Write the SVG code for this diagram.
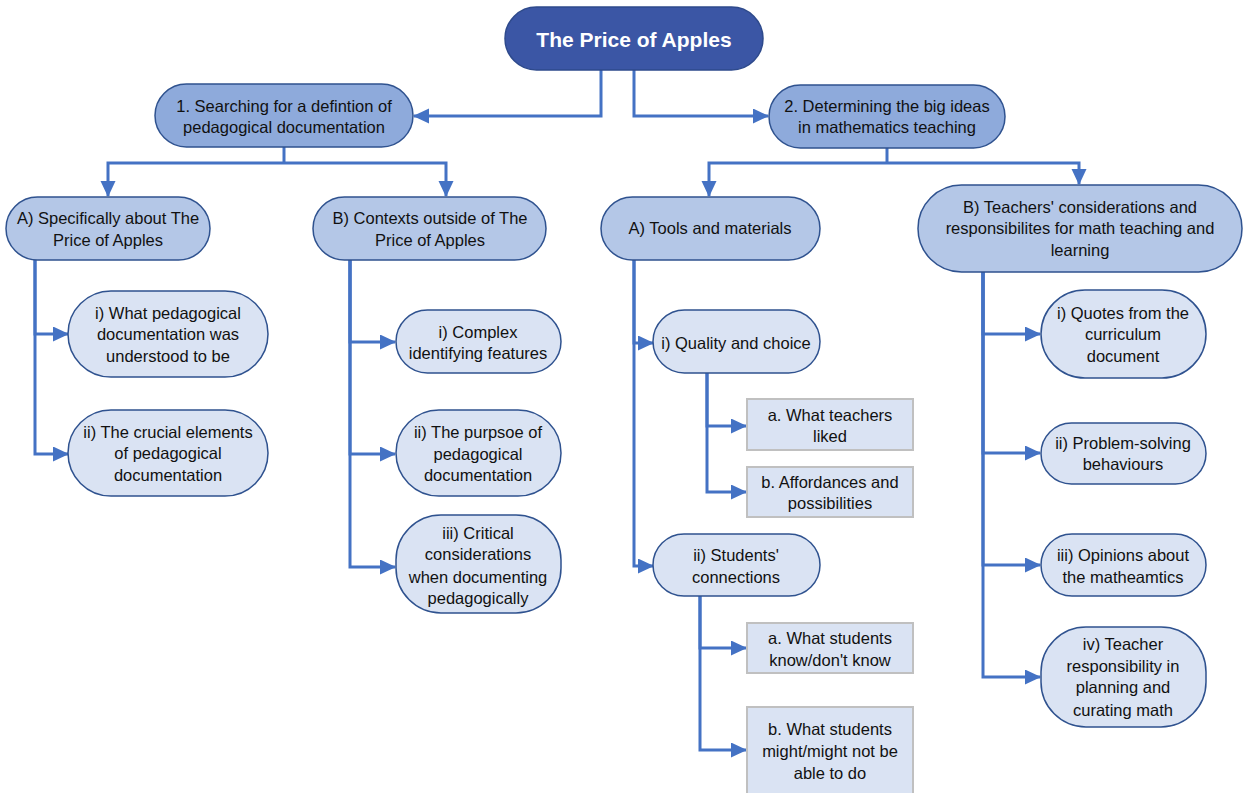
<svg xmlns="http://www.w3.org/2000/svg" width="1243" height="793" viewBox="0 0 1243 793">
<defs>
<style>
.t{font-family:"Liberation Sans",Arial,sans-serif;font-size:16.5px;fill:#111;text-anchor:middle}
.title{font-family:"Liberation Sans",Arial,sans-serif;font-size:21px;font-weight:bold;fill:#fff;text-anchor:middle}
.root{fill:#3b56a5;stroke:#2e4a8c;stroke-width:1.5}
.l2{fill:#8eaadb;stroke:#2f528f;stroke-width:1.5}
.l3{fill:#b4c7e7;stroke:#2f528f;stroke-width:1.5}
.l4{fill:#dae3f3;stroke:#2f528f;stroke-width:1.5}
.bx{fill:#dae3f3;stroke:#c0c0c0;stroke-width:2}
.c{fill:none;stroke:#4472c4;stroke-width:3;marker-end:url(#ah)}
.cn{fill:none;stroke:#4472c4;stroke-width:3}
</style>
<marker id="ah" markerUnits="userSpaceOnUse" markerWidth="16" markerHeight="16" refX="15" refY="7.5" orient="auto">
<path d="M0,0 L16,7.5 L0,15 Z" fill="#4472c4"/>
</marker>
</defs>

<g id="connectors">
<path class="c" d="M601,70 V116 H414"/>
<path class="c" d="M634,70 V116 H768"/>
<path class="cn" d="M284,147 V163"/>
<path class="c" d="M284,163 H108 V196"/>
<path class="c" d="M284,163 H446 V196"/>
<path class="cn" d="M887,148 V163"/>
<path class="c" d="M887,163 H709 V196"/>
<path class="c" d="M887,163 H1079 V184"/>
<path class="c" d="M35,260 V334 H68"/>
<path class="c" d="M35,260 V454 H68"/>
<path class="c" d="M350,260 V342 H395"/>
<path class="c" d="M350,260 V454 H395"/>
<path class="c" d="M350,260 V567 H395"/>
<path class="c" d="M634,260 V343 H653"/>
<path class="c" d="M634,260 V566 H653"/>
<path class="c" d="M707,373 V426 H746"/>
<path class="c" d="M707,373 V492 H746"/>
<path class="c" d="M700,596 V648 H746"/>
<path class="c" d="M700,596 V750 H746"/>
<path class="c" d="M983,272 V334 H1040"/>
<path class="c" d="M983,272 V453 H1040"/>
<path class="c" d="M983,272 V565 H1040"/>
<path class="c" d="M983,272 V677 H1040"/>
</g>

<g id="root">
<rect class="root" x="505" y="7" width="258" height="63" rx="31.5"/>
<text class="title" x="634" y="47">The Price of Apples</text>
</g>

<g id="n1">
<rect class="l2" x="155" y="84" width="258" height="63" rx="31.5"/>
<text class="t" x="284" y="112">1. Searching for a defintion of</text>
<text class="t" x="284" y="133">pedagogical documentation</text>
</g>

<g id="n2">
<rect class="l2" x="769" y="85" width="236" height="63" rx="31.5"/>
<text class="t" x="887" y="112">2. Determining the big ideas</text>
<text class="t" x="887" y="133">in mathematics teaching</text>
</g>

<g id="n1A">
<rect class="l3" x="6" y="197" width="204" height="63" rx="31.5"/>
<text class="t" x="108" y="224">A) Specifically about The</text>
<text class="t" x="108" y="246">Price of Apples</text>
</g>

<g id="n1B">
<rect class="l3" x="313" y="197" width="233" height="63" rx="31.5"/>
<text class="t" x="430" y="224">B) Contexts outside of The</text>
<text class="t" x="430" y="246">Price of Apples</text>
</g>

<g id="n2A">
<rect class="l3" x="601" y="197" width="219" height="63" rx="31.5"/>
<text class="t" x="710" y="234">A) Tools and materials</text>
</g>

<g id="n2B">
<rect class="l3" x="918" y="185" width="324" height="87" rx="43.5"/>
<text class="t" x="1080" y="213">B) Teachers' considerations and</text>
<text class="t" x="1080" y="234">responsibilites for math teaching and</text>
<text class="t" x="1080" y="256">learning</text>
</g>

<g id="n1Ai">
<rect class="l4" x="68" y="291" width="200" height="86" rx="43"/>
<text class="t" x="168" y="319">i) What pedagogical</text>
<text class="t" x="168" y="340">documentation was</text>
<text class="t" x="168" y="362">understood to be</text>
</g>

<g id="n1Aii">
<rect class="l4" x="68" y="410" width="200" height="86" rx="43"/>
<text class="t" x="168" y="438">ii) The crucial elements</text>
<text class="t" x="168" y="459">of pedagogical</text>
<text class="t" x="168" y="481">documentation</text>
</g>

<g id="n1Bi">
<rect class="l4" x="396" y="310" width="165" height="63" rx="31.5"/>
<text class="t" x="478" y="338">i) Complex</text>
<text class="t" x="478" y="359">identifying features</text>
</g>

<g id="n1Bii">
<rect class="l4" x="396" y="410" width="165" height="86" rx="43"/>
<text class="t" x="478" y="438">ii) The purpsoe of</text>
<text class="t" x="478" y="460">pedagogical</text>
<text class="t" x="478" y="481">documentation</text>
</g>

<g id="n1Biii">
<rect class="l4" x="396" y="515" width="165" height="98" rx="45"/>
<text class="t" x="478" y="539">iii) Critical</text>
<text class="t" x="478" y="560">considerations</text>
<text class="t" x="478" y="583">when documenting</text>
<text class="t" x="478" y="604">pedagogically</text>
</g>

<g id="n2Ai">
<rect class="l4" x="653" y="310" width="167" height="63" rx="31.5"/>
<text class="t" x="736" y="349">i) Quality and choice</text>
</g>

<g id="n2Aia">
<rect class="bx" x="747" y="399" width="166" height="51"/>
<text class="t" x="830" y="421">a. What teachers</text>
<text class="t" x="830" y="442">liked</text>
</g>

<g id="n2Aib">
<rect class="bx" x="747" y="467" width="166" height="50"/>
<text class="t" x="830" y="488">b. Affordances and</text>
<text class="t" x="830" y="509">possibilities</text>
</g>

<g id="n2Aii">
<rect class="l4" x="653" y="534" width="167" height="62" rx="31"/>
<text class="t" x="736" y="561">ii) Students'</text>
<text class="t" x="736" y="583">connections</text>
</g>

<g id="n2Aiia">
<rect class="bx" x="747" y="623" width="166" height="50"/>
<text class="t" x="830" y="644">a. What students</text>
<text class="t" x="830" y="666">know/don't know</text>
</g>

<g id="n2Aiib">
<rect class="bx" x="747" y="707" width="166" height="90"/>
<text class="t" x="830" y="735">b. What students</text>
<text class="t" x="830" y="757">might/might not be</text>
<text class="t" x="830" y="779">able to do</text>
</g>

<g id="n2Bi">
<rect class="l4" x="1041" y="290" width="165" height="88" rx="44"/>
<text class="t" x="1123" y="319">i) Quotes from the</text>
<text class="t" x="1123" y="340">curriculum</text>
<text class="t" x="1123" y="362">document</text>
</g>

<g id="n2Bii">
<rect class="l4" x="1041" y="423" width="165" height="61" rx="30.5"/>
<text class="t" x="1123" y="449">ii) Problem-solving</text>
<text class="t" x="1123" y="470">behaviours</text>
</g>

<g id="n2Biii">
<rect class="l4" x="1041" y="534" width="165" height="62" rx="31"/>
<text class="t" x="1123" y="561">iii) Opinions about</text>
<text class="t" x="1123" y="583">the matheamtics</text>
</g>

<g id="n2Biv">
<rect class="l4" x="1041" y="627" width="165" height="100" rx="45"/>
<text class="t" x="1123" y="650">iv) Teacher</text>
<text class="t" x="1123" y="672">responsibility in</text>
<text class="t" x="1123" y="693">planning and</text>
<text class="t" x="1123" y="716">curating math</text>
</g>
</svg>
